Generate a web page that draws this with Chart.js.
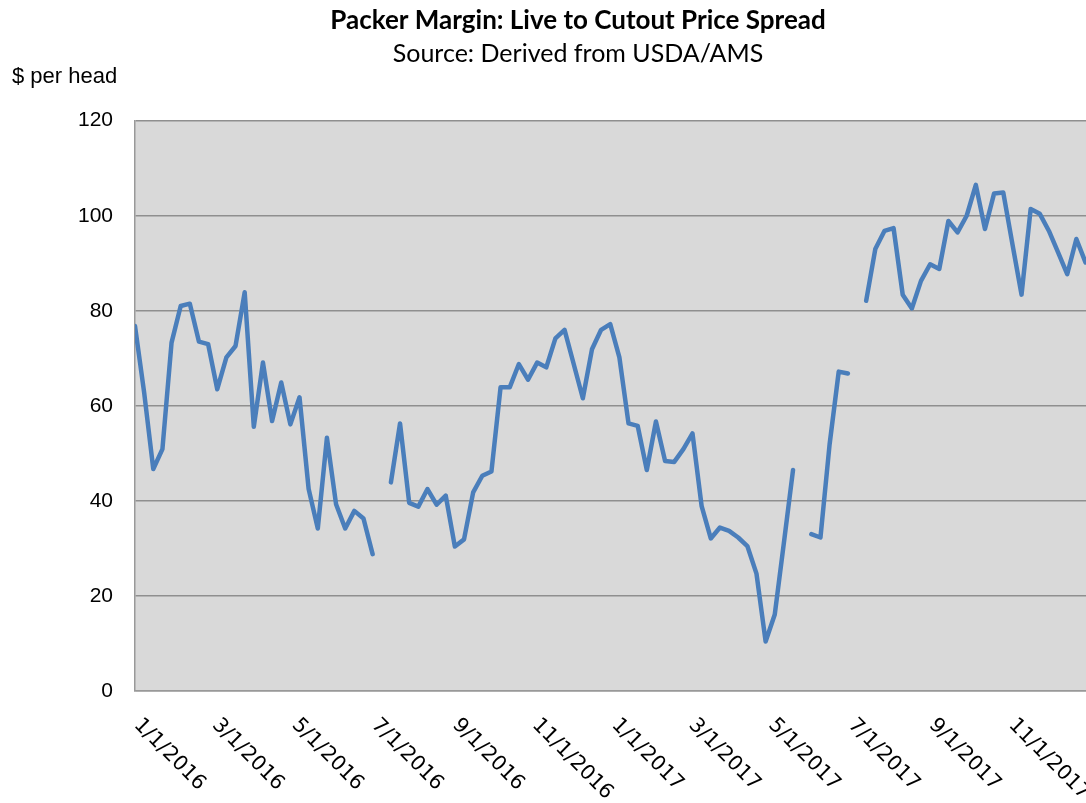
<!DOCTYPE html>
<html>
<head>
<meta charset="utf-8">
<script src="https://cdn.jsdelivr.net/npm/chart.js@4.4.1/dist/chart.umd.min.js"></script>
<style>
  html, body { margin: 0; padding: 0; background: #fff; overflow: hidden; }
  #wrap { width: 1156px; height: 803px; }
</style>
</head>
<body>
<div id="wrap"><canvas id="spreadChart" width="1156" height="803"></canvas></div>
<script>
    const titleText = "Packer Margin: Live to Cutout Price Spread";
    const sourceText = "Source: Derived from USDA/AMS";
    const unitLabel = "$ per head";

    // weekly series, first week = firstWeek, null = missing week
    const firstWeek = "1/1/2016";
    const spread = [
      76.8, 62.8, 46.7, 50.9, 73.3, 81.0, 81.5, 73.5, 73.0, 63.5,
      70.2, 72.6, 83.9, 55.6, 69.1, 56.8, 64.9, 56.1, 61.8, 42.5,
      34.2, 53.3, 39.3, 34.2, 37.9, 36.3, 28.8, null, 43.9, 56.3,
      39.6, 38.8, 42.5, 39.2, 41.1, 30.4, 31.9, 41.8, 45.3, 46.2,
      63.9, 63.9, 68.8, 65.5, 69.1, 68.1, 74.2, 76.0, 68.8, 61.6,
      71.9, 76.0, 77.2, 70.2, 56.3, 55.8, 46.5, 56.7, 48.4, 48.2,
      50.9, 54.2, 38.9, 32.1, 34.4, 33.7, 32.3, 30.5, 24.7, 10.4,
      16.1, 31.2, 46.5, null, 33.0, 32.3, 51.9, 67.2, 66.8, null,
      82.1, 93.0, 96.8, 97.4, 83.4, 80.5, 86.3, 89.8, 88.8, 98.9,
      96.5, 100.0, 106.5, 97.2, 104.7, 104.9, 94.1, 83.4, 101.4, 100.4,
      96.8, 92.3, 87.7, 95.1, 90.2
    ];

    const tickLabels = ["1/1/2016", "3/1/2016", "5/1/2016", "7/1/2016", "9/1/2016", "11/1/2016",
      "1/1/2017", "3/1/2017", "5/1/2017", "7/1/2017", "9/1/2017", "11/1/2017"];

    const yTicks = [0, 20, 40, 60, 80, 100, 120];

    const toUtc = s => { const [m, d, y] = s.split("/").map(Number); return Date.UTC(y, m - 1, d); };
    const dayOf = s => (toUtc(s) - toUtc(firstWeek)) / 864e5;

    const points = spread.map((v, i) => ({ x: i * 7, y: v }));

    const plotBg = {
      id: "plotBg",
      beforeDraw(chart) {
        const { ctx, chartArea: a } = chart;
        ctx.save();
        ctx.fillStyle = "#d9d9d9";
        ctx.fillRect(a.left, a.top, a.right - a.left, a.bottom - a.top);
        ctx.restore();
      }
    };

    // slanted date labels (reading downward) + unit label
    const extraText = {
      id: "extraText",
      afterDraw(chart) {
        const { ctx, scales: { x }, chartArea: a } = chart;
        ctx.save();
        ctx.fillStyle = "#000";
        ctx.font = "20.5px 'DejaVu Sans'";
        ctx.textAlign = "left";
        ctx.textBaseline = "middle";
        tickLabels.forEach(l => {
          const px = x.getPixelForValue(dayOf(l));
          ctx.save();
          ctx.translate(px + 2, a.bottom + 31);
          ctx.rotate(Math.PI / 4);
          ctx.fillText(l, 0, 0);
          ctx.restore();
        });
        ctx.font = "22px 'Liberation Sans'";
        ctx.textBaseline = "alphabetic";
        ctx.fillText(unitLabel, 12, 83);
        ctx.restore();
      }
    };

    new Chart(document.getElementById("spreadChart"), {
      type: "line",
      data: {
        datasets: [{
          data: points,
          borderColor: "#4a7ebb",
          borderWidth: 4.5,
          borderJoinStyle: "round",
          borderCapStyle: "round",
          pointRadius: 0,
          tension: 0,
          spanGaps: false
        }]
      },
      options: {
        responsive: false,
        animation: false,
        events: [],
        layout: { padding: 0, autoPadding: false },
        plugins: {
          legend: { display: false },
          tooltip: { enabled: false },
          title: {
            display: true, text: titleText, color: "#000",
            font: { family: "Lato", size: 26, weight: "bold" },
            padding: { top: 5, bottom: 2 }
          },
          subtitle: {
            display: true, text: sourceText, color: "#000",
            font: { family: "Lato", size: 25 },
            padding: { top: 1, bottom: 51.5 }
          }
        },
        scales: {
          x: {
            type: "linear", min: 0, max: 782,
            ticks: { display: false },
            grid: { display: false },
            border: { display: true, color: "#999", width: 1.5 },
            afterBuildTicks: s => { s.ticks = tickLabels.map(l => ({ value: dayOf(l) })); },
            afterFit: s => { s.height = 112; }
          },
          y: {
            min: 0, max: 120,
            afterBuildTicks: s => { s.ticks = yTicks.map(v => ({ value: v })); },
            ticks: { color: "#000", padding: 22, font: { family: "Liberation Sans", size: 21 } },
            grid: { color: "#8f8f8f", lineWidth: 1.5, drawTicks: false },
            border: { display: true, color: "#999", width: 1.5 },
            afterFit: s => { s.width = 135; }
          }
        }
      },
      plugins: [plotBg, extraText]
    });
</script>
</body>
</html>
